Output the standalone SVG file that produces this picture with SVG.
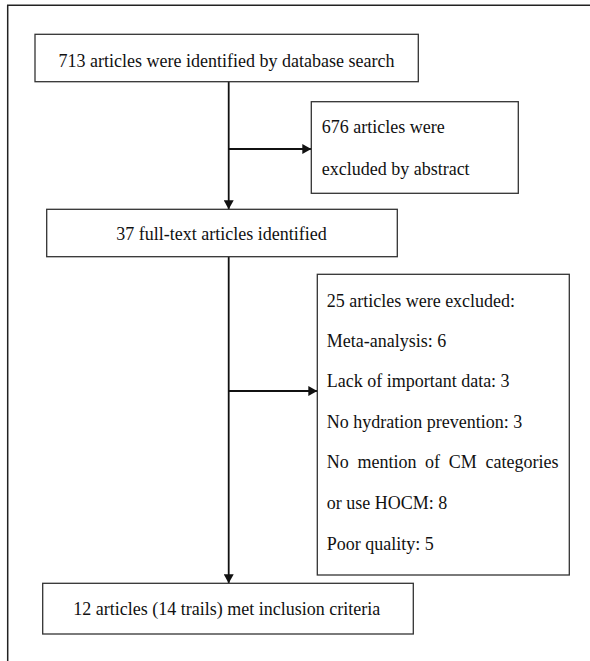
<svg xmlns="http://www.w3.org/2000/svg" width="590" height="661" viewBox="0 0 590 661">
  <defs>
    <style>
      .box { fill: #ffffff; stroke: #333333; stroke-width: 1.3; }
      .t { font-family: "Liberation Serif", "Times New Roman", serif; font-size: 18px; fill: #111111; }
      .c { text-anchor: middle; }
      .conn { stroke: #111111; stroke-width: 1.8; fill: none; }
      .frame { stroke: #222222; stroke-width: 1.5; fill: none; }
    </style>
    <marker id="arrow" markerUnits="userSpaceOnUse" markerWidth="10" markerHeight="10" refX="9" refY="5" orient="auto">
      <path d="M0,0 L9,5 L0,10 Z" fill="#111111"/>
    </marker>
  </defs>
  <rect width="590" height="661" fill="#ffffff"/>
  <path class="frame" d="M7.7,661 V5.3 H590"/>

  <g id="connectors">
    <line class="conn" x1="228.7" y1="81.7" x2="228.7" y2="209.3" marker-end="url(#arrow)"/>
    <line class="conn" x1="228.7" y1="149" x2="311.3" y2="149" marker-end="url(#arrow)"/>
    <line class="conn" x1="228.7" y1="256.7" x2="228.7" y2="583.3" marker-end="url(#arrow)"/>
    <line class="conn" x1="228.7" y1="391" x2="317.3" y2="391" marker-end="url(#arrow)"/>
  </g>

  <g id="node-identified">
    <rect class="box" x="35" y="34.3" width="383.3" height="47.4"/>
    <text class="t c" x="226.5" y="66.5">713 articles were identified by database search</text>
  </g>

  <g id="node-excluded-abstract">
    <rect class="box" x="311.3" y="101.7" width="207" height="91.6"/>
    <text class="t" x="321.7" y="133">676 articles were</text>
    <text class="t" x="321.7" y="175">excluded by abstract</text>
  </g>

  <g id="node-fulltext">
    <rect class="box" x="46.7" y="209.3" width="350.6" height="47.4"/>
    <text class="t c" x="221.5" y="240">37 full-text articles identified</text>
  </g>

  <g id="node-excluded-fulltext">
    <rect class="box" x="317.3" y="274.3" width="252" height="300.7"/>
    <text class="t" x="326.7" y="307">25 articles were excluded:</text>
    <text class="t" x="326.7" y="347">Meta-analysis: 6</text>
    <text class="t" x="326.7" y="387">Lack of important data: 3</text>
    <text class="t" x="326.7" y="428">No hydration prevention: 3</text>
    <text class="t" x="326.7" y="468" word-spacing="4.2">No mention of CM categories</text>
    <text class="t" x="326.7" y="509">or use HOCM: 8</text>
    <text class="t" x="326.7" y="550">Poor quality: 5</text>
  </g>

  <g id="node-included">
    <rect class="box" x="42.7" y="583.3" width="370.6" height="50.7"/>
    <text class="t c" x="226.7" y="615">12 articles (14 trails) met inclusion criteria</text>
  </g>
</svg>
